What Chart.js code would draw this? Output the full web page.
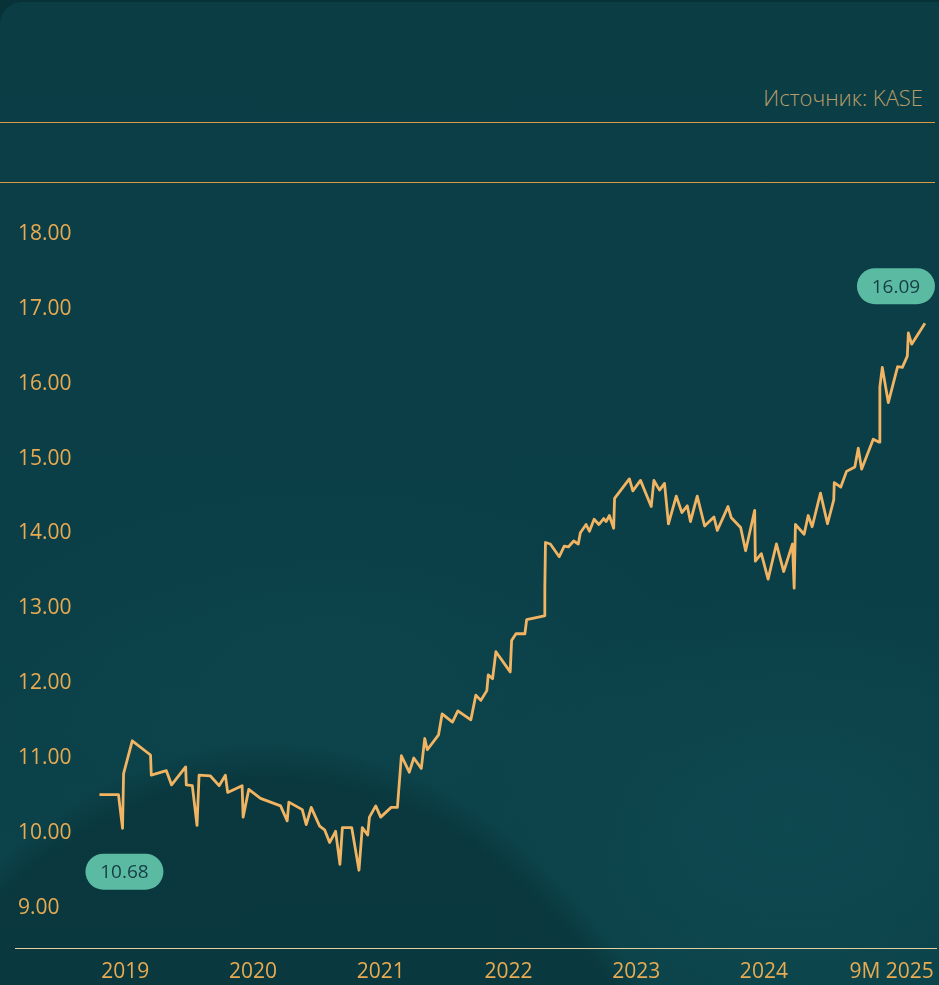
<!DOCTYPE html>
<html>
<head>
<meta charset="utf-8">
<script src="https://cdn.jsdelivr.net/npm/chart.js@4"></script>
<style>
  html, body { margin: 0; padding: 0; }
  body { width: 939px; height: 985px; background: #073238; position: relative; overflow: hidden; font-family: "Open Sans", sans-serif; }
  .card {
    position: absolute; left: 0; top: 2px; width: 939px; height: 983px;
    border-top-left-radius: 22px;
    background:
      radial-gradient(ellipse 640px 1274px at 270px 2013px, rgba(5,36,40,0.34) 97%, rgba(5,36,40,0) 100%),
      radial-gradient(ellipse 420px 300px at 790px 820px, rgba(18,82,88,0.45), rgba(18,82,88,0) 75%),
      radial-gradient(ellipse 500px 260px at 330px 680px, rgba(16,76,82,0.35), rgba(16,76,82,0) 75%),
      linear-gradient(180deg, #0b3d45 0%, #0b3f47 60%, #0c434a 100%);
  }
  .rule { position: absolute; left: 0; width: 935px; height: 1px; background: #d99a45; }
  .source { position: absolute; right: 16px; top: 82px; font-size: 22px; font-weight: 300; color: #b89d6b; }
  #graph1 { position: absolute; left: 0; top: 0; }
</style>
</head>
<body>
<div class="card"></div>
<div class="source">Источник: KASE</div>
<div class="rule" style="top:122px"></div>
<div class="rule" style="top:182px"></div>
<canvas id="graph1" width="945" height="998"></canvas>
<script>
// decimal years and closing values
const dates = [
  2018.798, 2018.947, 2018.979, 2018.987, 2019.055, 2019.198, 2019.204, 2019.322, 2019.363, 2019.473,
  2019.478, 2019.525, 2019.562, 2019.578, 2019.667, 2019.735, 2019.784, 2019.802, 2019.915, 2019.923,
  2019.967, 2020.059, 2020.216, 2020.268, 2020.281, 2020.386, 2020.417, 2020.456, 2020.522, 2020.561,
  2020.600, 2020.647, 2020.681, 2020.700, 2020.773, 2020.830, 2020.856, 2020.898, 2020.912, 2020.961,
  2021.000, 2021.082, 2021.131, 2021.162, 2021.224, 2021.259, 2021.318, 2021.345, 2021.365, 2021.453,
  2021.481, 2021.562, 2021.604, 2021.706, 2021.745, 2021.784, 2021.831, 2021.842, 2021.876, 2021.902,
  2022.014, 2022.025, 2022.059, 2022.129, 2022.143, 2022.281, 2022.285, 2022.290, 2022.328, 2022.398,
  2022.437, 2022.469, 2022.511, 2022.547, 2022.563, 2022.608, 2022.634, 2022.671, 2022.708, 2022.746,
  2022.765, 2022.790, 2022.824, 2022.831, 2022.947, 2022.974, 2023.034, 2023.118, 2023.139, 2023.183,
  2023.222, 2023.253, 2023.314, 2023.358, 2023.400, 2023.425, 2023.478, 2023.536, 2023.609, 2023.635,
  2023.719, 2023.745, 2023.818, 2023.857, 2023.928, 2023.933, 2023.980, 2024.033, 2024.098, 2024.155,
  2024.224, 2024.237, 2024.247, 2024.315, 2024.347, 2024.378, 2024.443, 2024.498, 2024.547, 2024.551,
  2024.602, 2024.647, 2024.712, 2024.739, 2024.765, 2024.856, 2024.903, 2024.908, 2024.927, 2024.974,
  2025.047, 2025.084, 2025.123, 2025.131, 2025.157, 2025.261
];
const prices = [
  10.51, 10.51, 10.06, 10.79, 11.23, 11.04, 10.77, 10.83, 10.64, 10.88,
  10.64, 10.63, 10.10, 10.77, 10.76, 10.63, 10.77, 10.54, 10.63, 10.21,
  10.58, 10.46, 10.36, 10.16, 10.41, 10.31, 10.11, 10.34, 10.09, 10.04,
  9.87, 10.02, 9.58, 10.07, 10.07, 9.50, 10.07, 9.97, 10.21, 10.36,
  10.21, 10.34, 10.34, 11.03, 10.81, 11.00, 10.86, 11.26, 11.11, 11.31,
  11.59, 11.48, 11.63, 11.51, 11.84, 11.77, 11.90, 12.11, 12.06, 12.42,
  12.15, 12.57, 12.66, 12.66, 12.85, 12.90, 13.27, 13.88, 13.86, 13.69,
  13.83, 13.82, 13.90, 13.86, 14.01, 14.12, 14.03, 14.19, 14.12, 14.20,
  14.16, 14.24, 14.07, 14.47, 14.73, 14.57, 14.71, 14.36, 14.71, 14.58,
  14.67, 14.13, 14.50, 14.28, 14.37, 14.16, 14.50, 14.10, 14.22, 14.04,
  14.36, 14.21, 14.08, 13.77, 14.31, 13.63, 13.73, 13.39, 13.86, 13.49,
  13.86, 13.27, 14.12, 13.99, 14.24, 14.09, 14.54, 14.13, 14.45, 14.68,
  14.62, 14.83, 14.89, 15.14, 14.86, 15.26, 15.22, 15.96, 16.22, 15.75,
  16.23, 16.22, 16.37, 16.68, 16.53, 16.81
];
const tickYears  = [2019, 2020, 2021, 2022, 2023, 2024, 2025];
const tickLabels = ['2019', '2020', '2021', '2022', '2023', '2024', '9M 2025'];
const yTicks     = [9, 10, 11, 12, 13, 14, 15, 16, 17, 18];
const badgeTexts = ['10.68', '16.09'];

const gold = '#e9ab52';

const badges = {
  id: 'badges',
  afterDatasetsDraw(chart) {
    const {ctx, scales: {x, y}} = chart;
    const n = dates.length - 1;
    const spots = [
      [x.getPixelForValue(dates[0]) + 25, y.getPixelForValue(prices[0]) + 77],
      [x.getPixelForValue(dates[n]) - 29, y.getPixelForValue(prices[n]) - 37]
    ];
    ctx.save();
    ctx.font = '500 19px "Open Sans"';
    ctx.textAlign = 'center';
    ctx.textBaseline = 'middle';
    spots.forEach(([cx, cy], i) => {
      const w = 78, h = 36;
      ctx.fillStyle = '#5bbba2';
      ctx.beginPath();
      ctx.roundRect(cx - w / 2, cy - h / 2, w, h, h / 2);
      ctx.fill();
      ctx.fillStyle = '#173d44';
      ctx.fillText(badgeTexts[i], cx, cy + 1);
    });
    ctx.restore();
  }
};

const ctx = document.getElementById('graph1').getContext('2d');
const chart = new Chart(ctx, {
  type: 'line',
  data: {
    datasets: [{
      data: dates.map((d, i) => ({x: d, y: prices[i]})),
      borderColor: '#f0b462',
      borderWidth: 2.8,
      borderJoinStyle: 'round',
      pointRadius: 0,
      tension: 0,
      fill: false
    }]
  },
  options: {
    responsive: false,
    animation: false,
    layout: { padding: { top: 202, left: 9, right: 4, bottom: 2 } },
    plugins: { legend: { display: false }, tooltip: { enabled: false } },
    scales: {
      x: {
        type: 'linear',
        min: 2018.137,
        max: 2025.353,
        afterBuildTicks: (axis) => { axis.ticks = tickYears.map(v => ({value: v})); },
        ticks: {
          color: gold,
          font: { family: 'Open Sans', size: 21, weight: 500 },
          padding: 11,
          maxRotation: 0,
          autoSkip: false,
          callback: (v) => tickLabels[tickYears.indexOf(v)]
        },
        grid: { display: false, drawTicks: false, tickLength: 0 },
        border: { display: true, color: '#e6cf9f', width: 1 }
      },
      y: {
        min: 8.45,
        max: 18.43,
        afterBuildTicks: (axis) => { axis.ticks = yTicks.map(v => ({value: v})); },
        ticks: {
          mirror: true,
          padding: 3,
          color: gold,
          font: { family: 'Open Sans', size: 21, weight: 500 },
          callback: (v) => v.toFixed(2)
        },
        grid: { display: false, drawTicks: false, tickLength: 0 },
        border: { display: false }
      }
    }
  },
  plugins: [badges]
});
</script>
</body>
</html>
